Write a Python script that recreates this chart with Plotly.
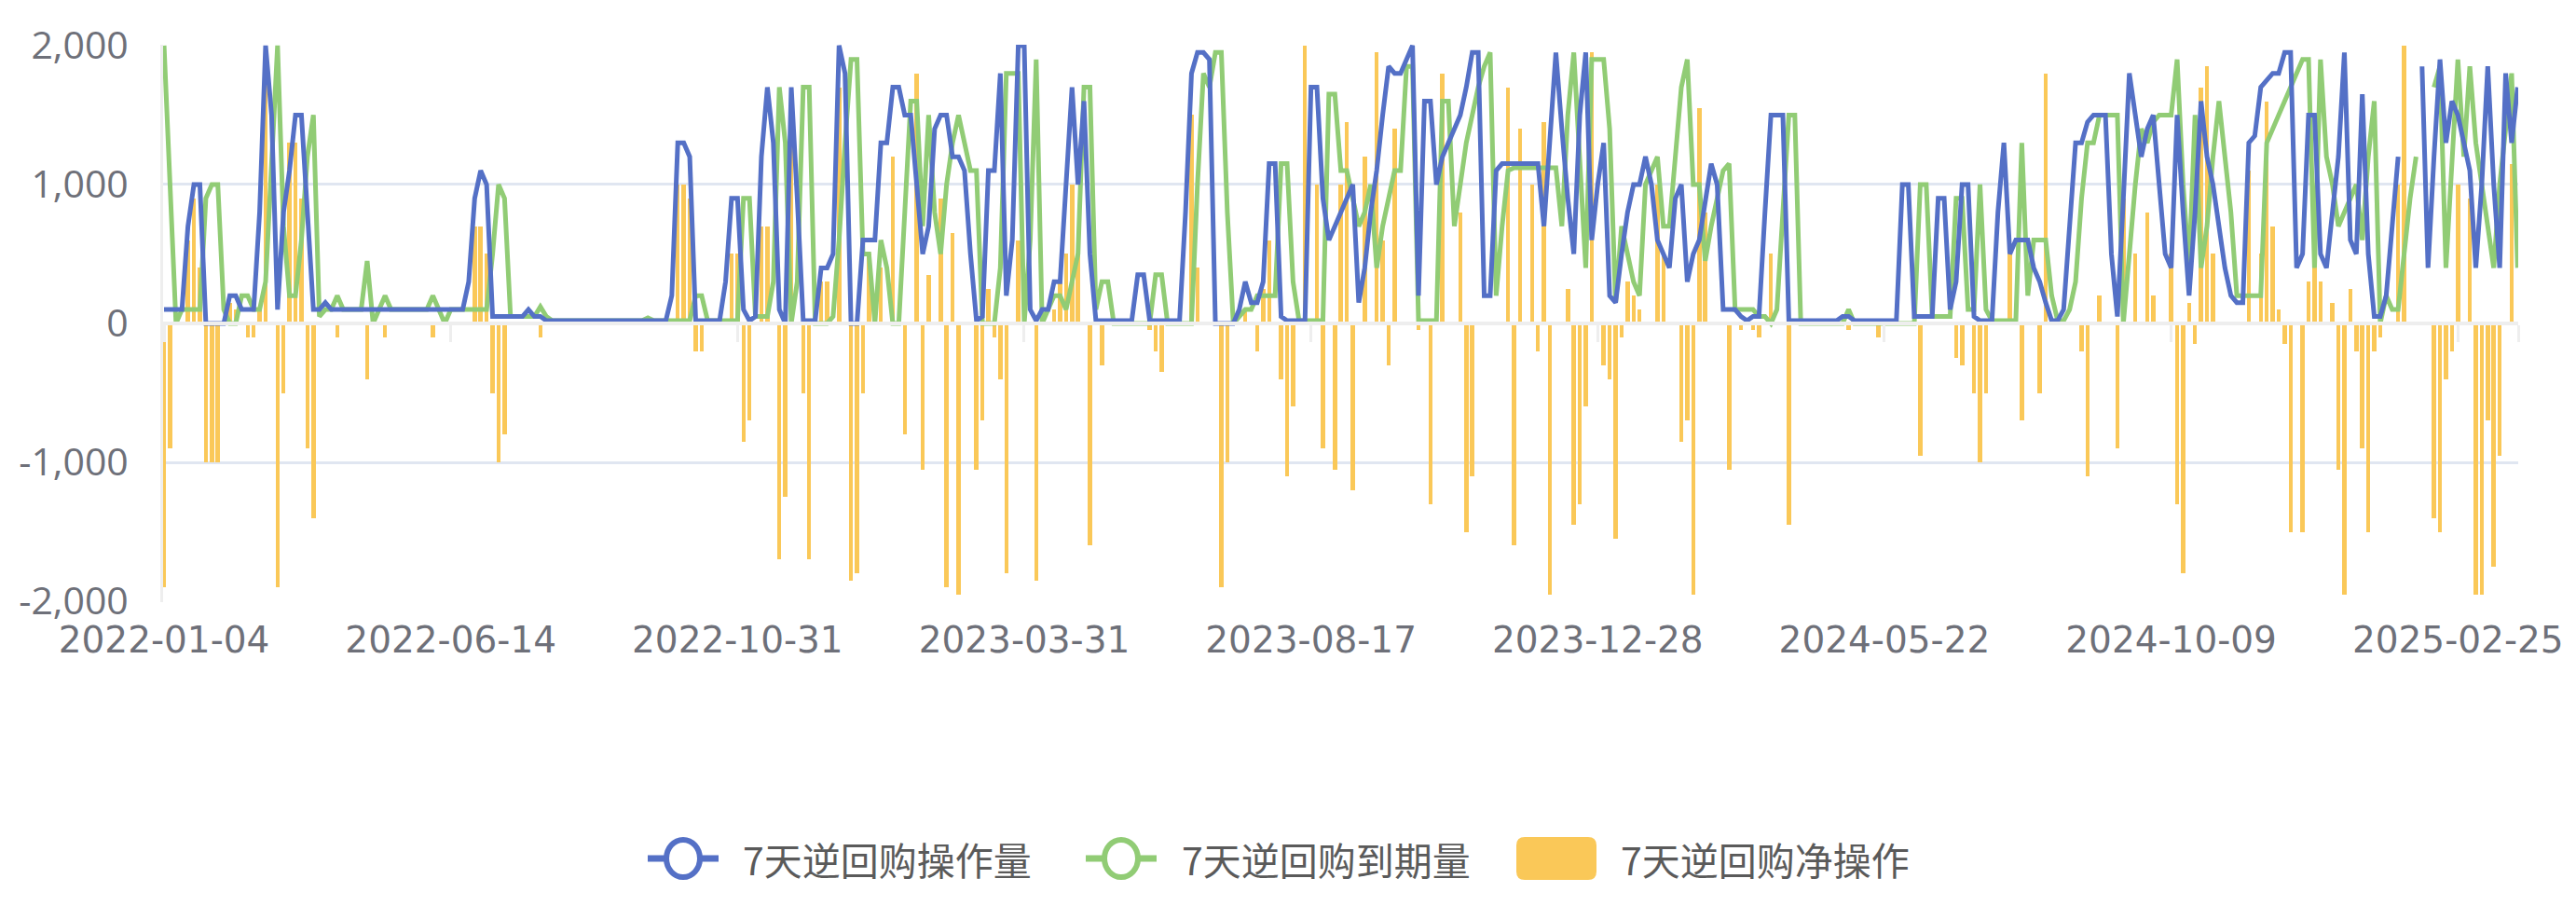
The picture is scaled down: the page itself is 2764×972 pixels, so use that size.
import plotly.graph_objects as go

# ---------------- data ----------------
tick_labels = ["2022-01-04", "2022-06-14", "2022-10-31", "2023-03-31", "2023-08-17",
               "2023-12-28", "2024-05-22", "2024-10-09", "2025-02-25"]
points_per_label = 48

y_ticks = [-2000, -1000, 0, 1000, 2000]
y_tick_text = ["-2,000", "-1,000", "0", "1,000", "2,000"]

series_names = ["7天逆回购操作量", "7天逆回购到期量", "7天逆回购净操作"]

# 7天逆回购操作量 (亿元)
repo_ops = [
    100, 100, 100, 100, 700, 1000, 1000, 0, 0, 0,
    0, 200, 200, 100, 100, 100, 800, 2000, 1500, 100,
    800, 1100, 1500, 1500, 800, 100, 100, 150, 100, 100,
    100, 100, 100, 100, 100, 100, 100, 100, 100, 100,
    100, 100, 100, 100, 100, 100, 100, 100, 100, 100,
    100, 300, 900, 1100, 1000, 50, 50, 50, 50, 50,
    50, 100, 50, 50, 20, 20, 20, 20, 20, 20,
    20, 20, 20, 20, 20, 20, 20, 20, 20, 20,
    20, 20, 20, 20, 20, 200, 1300, 1300, 1200, 20,
    20, 20, 20, 20, 300, 900, 900, 100, 20, 50,
    1200, 1700, 1300, 100, 0, 1700, 900, 20, 20, 20,
    400, 400, 500, 2000, 1800, 0, 0, 600, 600, 600,
    1300, 1300, 1700, 1700, 1500, 1500, 1000, 500, 700, 1400,
    1500, 1500, 1200, 1200, 1100, 500, 20, 50, 1100, 1100,
    1800, 200, 600, 2000, 2000, 100, 20, 100, 100, 300,
    300, 1000, 1700, 1000, 1600, 500, 20, 20, 20, 20,
    20, 20, 20, 350, 350, 20, 20, 20, 20, 20,
    20, 800, 1800, 1950, 1950, 1900, 0, 0, 0, 0,
    100, 300, 150, 150, 300, 1150, 1150, 50, 20, 20,
    20, 20, 1700, 1700, 900, 600, 700, 800, 900, 1000,
    150, 400, 800, 1100, 1500, 1850, 1800, 1800, 1900, 2000,
    200, 1600, 1600, 1000, 1200, 1300, 1400, 1500, 1700, 1950,
    1950, 200, 200, 1100, 1150, 1150, 1150, 1150, 1150, 1150,
    1150, 700, 1300, 1950, 1400, 900, 500, 1500, 1950, 600,
    1000, 1300, 200, 150, 500, 800, 1000, 1000, 1200, 1000,
    600, 500, 400, 900, 1000, 300, 500, 600, 900, 1150,
    1000, 100, 100, 100, 50, 20, 50, 50, 800, 1500,
    1500, 1500, 20, 20, 20, 20, 20, 20, 20, 20,
    20, 50, 50, 20, 20, 20, 20, 20, 20, 20,
    20, 1000, 1000, 50, 50, 50, 50, 900, 900, 100,
    300, 1000, 1000, 50, 20, 20, 20, 800, 1300, 500,
    600, 600, 600, 400, 300, 150, 20, 20, 100, 700,
    1300, 1300, 1450, 1500, 1500, 1500, 500, 50, 900, 1800,
    1500, 1200, 1400, 1500, 1000, 500, 400, 1500, 800, 200,
    800, 1600, 1200, 1000, 700, 400, 200, 150, 150, 1300,
    1350, 1700, 1750, 1800, 1800, 1950, 1950, 400, 500, 1500,
    1500, 500, 400, 800, 1200, 1950, 600, 500, 1650, 500,
    50, 50, 200, 700, 1200, None, None, None, 1850, 400,
    1200, 1900, 1300, 1600, 1500, 1300, 1100, 400, 1000, 1850,
    1000, 400, 1800, 1300, 1700,
]

# 7天逆回购到期量 (亿元)
repo_maturity = [
    2000, 1000, 0, 100, 100, 100, 100, 900, 1000, 1000,
    100, 0, 0, 200, 200, 100, 100, 300, 1200, 2000,
    700, 200, 200, 600, 1200, 1500, 50, 100, 100, 200,
    100, 100, 100, 100, 450, 0, 100, 200, 100, 100,
    100, 100, 100, 100, 100, 200, 100, 0, 100, 100,
    100, 100, 100, 100, 100, 500, 1000, 900, 50, 50,
    50, 50, 50, 120, 50, 20, 20, 20, 20, 20,
    20, 20, 20, 20, 20, 20, 20, 20, 20, 20,
    20, 40, 20, 20, 20, 20, 20, 20, 20, 200,
    200, 20, 20, 20, 20, 20, 20, 900, 900, 50,
    50, 50, 300, 1700, 1300, 0, 300, 1700, 1700, 0,
    0, 0, 50, 600, 1300, 1900, 1900, 500, 500, 0,
    600, 400, 0, 0, 800, 1600, 1600, 700, 1500, 800,
    500, 1000, 1300, 1500, 1300, 1100, 1100, 0, 0, 0,
    400, 1800, 1800, 1800, 0, 600, 1900, 0, 100, 200,
    200, 100, 300, 500, 1700, 1700, 100, 300, 300, 0,
    0, 0, 0, 0, 0, 0, 350, 350, 0, 0,
    0, 0, 0, 1000, 1800, 1700, 1950, 1950, 800, 0,
    50, 100, 100, 200, 200, 200, 200, 1150, 1150, 300,
    20, 20, 20, 20, 20, 1650, 1650, 1100, 1100, 900,
    700, 800, 1000, 400, 700, 900, 1100, 1100, 1850, 1850,
    20, 20, 20, 20, 1600, 1600, 700, 1000, 1300, 1500,
    1700, 1850, 1950, 200, 700, 1100, 1120, 1120, 1120, 1120,
    1120, 1120, 1120, 1120, 700, 1500, 1950, 1200, 400, 1900,
    1900, 1900, 1400, 150, 700, 500, 300, 200, 1000, 1100,
    1200, 700, 700, 1200, 1700, 1900, 1000, 1000, 450, 700,
    900, 1100, 1150, 100, 100, 100, 100, 50, 50, 0,
    100, 800, 1500, 1500, 0, 0, 0, 0, 0, 0,
    0, 0, 100, 0, 0, 0, 0, 0, 0, 0,
    0, 0, 0, 0, 1000, 1000, 50, 50, 50, 50,
    900, 900, 100, 100, 1000, 100, 20, 20, 20, 20,
    20, 1300, 200, 600, 600, 600, 200, 20, 20, 100,
    300, 900, 1300, 1300, 1500, 1500, 1500, 1500, 0, 500,
    1000, 1400, 1300, 1450, 1500, 1500, 1500, 1900, 1000, 400,
    1500, 400, 700, 1200, 1600, 1200, 800, 200, 200, 200,
    200, 200, 1300, 1400, 1500, 1600, 1700, 1800, 1900, 1900,
    400, 1900, 1200, 1000, 700, 800, 900, 1000, 600, 1200,
    1600, 0, 200, 100, 100, 500, 900, 1200, None, None,
    1700, 1850, 400, 1200, 1900, 1200, 1850, 1300, 1000, 700,
    400, 1000, 1400, 1800, 400,
]

# 7天逆回购净操作 (亿元)
repo_net = [
    -1900, -900, 0, 0, 600, 900, 400, -1000, -1000, -1000,
    0, 150, 100, 0, -100, -100, 100, 1800, 0, -1900,
    -500, 1300, 1300, 900, -900, -1400, 0, 0, 0, -100,
    0, 0, 0, 0, -400, 0, 0, -100, 0, 0,
    0, 0, 0, 0, 0, -100, 0, 0, 0, 0,
    0, 0, 700, 700, 500, -500, -1000, -800, 0, 0,
    0, 0, 0, -100, 0, 0, 0, 0, 0, 0,
    0, 0, 0, 0, 0, 0, 0, 0, 0, 0,
    0, 0, 0, 0, 0, 0, 1000, 1000, 900, -200,
    -200, 0, 0, 0, 0, 500, 500, -850, -700, 0,
    700, 700, 0, -1700, -1250, 1500, 0, -500, -1700, 0,
    300, 300, 0, 1700, 0, -1850, -1800, -500, 500, 0,
    400, 0, 1200, 0, -800, 0, 1800, -1050, 350, 0,
    900, -1900, 650, -1950, 0, 0, -1050, -700, 250, -100,
    -400, -1800, 0, 600, 0, 0, -1850, 0, 0, 100,
    300, 500, 1000, 500, 0, -1600, 0, -300, 0, 0,
    0, 0, 0, 0, 0, -50, -200, -350, 0, 0,
    0, 0, 1500, 400, 0, 0, 0, -1900, -1000, 0,
    0, 100, 0, -200, 250, 600, 0, -400, -1100, -600,
    0, 2000, 0, 1000, -900, 0, -1050, 1000, 1450, -1200,
    0, 1200, 0, 1950, 600, -300, 1400, 0, 0, 0,
    -50, 0, -1300, 0, 1800, 0, 0, 800, -1500, -1100,
    0, 0, 0, 0, 0, 1700, -1600, 1400, 0, 1000,
    -200, 1450, -1950, 0, 0, 250, -1450, -1300, -600, 1950,
    0, -300, -400, -1550, -100, 300, 200, 100, 0, 0,
    1000, 500, 0, 0, -850, -700, -1950, 1550, 800, 0,
    0, 0, -1050, 0, -50, 0, -50, -100, 0, 500,
    0, 0, -1450, 0, 0, 0, 0, 0, 0, 0,
    0, 0, -50, 0, 0, 0, 0, -100, 0, 0,
    0, 0, 0, 0, -950, 0, 0, 0, 0, 0,
    -250, -300, 0, -500, -1000, -500, 0, 0, 0, 500,
    0, -700, 0, 0, -500, 1800, 0, 0, 0, 0,
    0, -200, -1100, 0, 200, 0, 0, -900, 900, 0,
    500, 0, 800, 200, 0, 0, 500, -1300, -1800, 150,
    -150, 1700, 1850, 500, 0, 0, 0, 0, 0, 1100,
    0, 500, 1600, 700, 100, -150, -1500, 0, -1500, 300,
    400, 300, 0, 150, -1050, -1950, 250, -200, -900, -1500,
    -200, -100, 0, 0, 1000, 2000, 0, 0, 0, 0,
    -1400, -1500, -400, -200, 1000, 0, 900, -1950, -1950, -700,
    -1750, -950, 0, 1150, 0,
]

# ---------------- style ----------------
C_BLUE, C_GREEN, C_YELLOW = "#5470c6", "#91cc75", "#fac858"
AXIS_TXT = "#6E7079"
GRID = "#E0E6F1"
ZERO = "#EEEEEE"
X_FONT = "DejaVu Sans"
Y_FONT = "Open Sans"
CJK_FONT = "Noto Sans CJK SC"

W, H = 2764, 972
ML, MR, MT, MB = 175, 62, 48, 326
PW, PH = W - ML - MR, H - MT - MB

idx = list(range(len(repo_ops)))
tick_pos = [i * points_per_label for i in range(len(tick_labels))]
x_range = [-0.16, 394.1]

fig = go.Figure()
fig.add_trace(go.Bar(x=idx, y=repo_net, name=series_names[2], marker_color=C_YELLOW,
                     marker_line_width=0, width=0.7, showlegend=False))
fig.add_trace(go.Scatter(x=idx, y=repo_maturity, name=series_names[1], mode="lines",
                         line=dict(color=C_GREEN, width=5), connectgaps=False, showlegend=False))
fig.add_trace(go.Scatter(x=idx, y=repo_ops, name=series_names[0], mode="lines",
                         line=dict(color=C_BLUE, width=5), connectgaps=False, showlegend=False))
# carrier for the zero axis line
fig.add_trace(go.Scatter(x=[None], y=[None], xaxis="x2", showlegend=False, hoverinfo="skip"))


def px(x):
    return (x - ML) / PW


def py(y):
    return (H - MB - y) / PH


shapes = []
annotations = []
legend_items = [
    (series_names[0], C_BLUE, "line", 733, 795),
    (series_names[1], C_GREEN, "line", 1203, 1266),
    (series_names[2], C_YELLOW, "rect", 1670, 1737),
]
LY = 921
for name, col, kind, cx, tx in legend_items:
    if kind == "line":
        shapes.append(dict(type="line", xref="paper", yref="paper",
                           x0=px(cx - 38), x1=px(cx + 38), y0=py(LY), y1=py(LY),
                           line=dict(color=col, width=7)))
        shapes.append(dict(type="circle", xref="paper", yref="paper",
                           x0=px(cx - 18), x1=px(cx + 18), y0=py(LY + 20), y1=py(LY - 20),
                           fillcolor="white", line=dict(color=col, width=6)))
    else:
        x0, x1, y0, y1, r = cx - 43, cx + 43, LY - 23, LY + 23, 9
        path = (f"M {px(x0 + r)},{py(y0)} L {px(x1 - r)},{py(y0)} "
                f"Q {px(x1)},{py(y0)} {px(x1)},{py(y0 + r)} L {px(x1)},{py(y1 - r)} "
                f"Q {px(x1)},{py(y1)} {px(x1 - r)},{py(y1)} L {px(x0 + r)},{py(y1)} "
                f"Q {px(x0)},{py(y1)} {px(x0)},{py(y1 - r)} L {px(x0)},{py(y0 + r)} "
                f"Q {px(x0)},{py(y0)} {px(x0 + r)},{py(y0)} Z")
        shapes.append(dict(type="path", xref="paper", yref="paper", path=path,
                           fillcolor=col, line=dict(width=0)))
    annotations.append(dict(text=name, xref="paper", yref="paper", x=px(tx), y=py(LY),
                            xanchor="left", yanchor="middle", showarrow=False,
                            font=dict(family=CJK_FONT, size=41, color="#5a5a5a")))

fig.update_layout(
    width=W, height=H, autosize=False,
    margin=dict(l=ML, r=MR, t=MT, b=MB, pad=0),
    paper_bgcolor="white", plot_bgcolor="white",
    barmode="overlay", bargap=0,
    xaxis=dict(range=x_range, tickmode="array", tickvals=tick_pos, ticktext=tick_labels,
               showgrid=False, zeroline=False, showline=False, ticks="",
               automargin=False, ticklabelstandoff=14,
               tickfont=dict(family=X_FONT, size=39, color=AXIS_TXT)),
    xaxis2=dict(range=x_range, overlaying="x", anchor="free", position=0.5,
                showline=True, linecolor=ZERO, linewidth=4,
                ticks="outside", ticklen=18, tickwidth=3, tickcolor=ZERO,
                tickmode="array", tickvals=tick_pos + [394.1],
                showticklabels=False, showgrid=False, zeroline=False, automargin=False),
    yaxis=dict(range=[-2006, 2006], tickmode="array",
               tickvals=y_ticks, ticktext=y_tick_text,
               showgrid=True, gridcolor=GRID, gridwidth=3, zeroline=False,
               showline=True, linecolor=ZERO, linewidth=3,
               ticks="", ticklabelstandoff=26, automargin=False,
               tickfont=dict(family=Y_FONT, size=41, color=AXIS_TXT)),
    shapes=shapes, annotations=annotations,
    showlegend=False,
)

fig.write_html("out.html", config={"displayModeBar": False},
               post_script="document.body.style.margin='0px';")
